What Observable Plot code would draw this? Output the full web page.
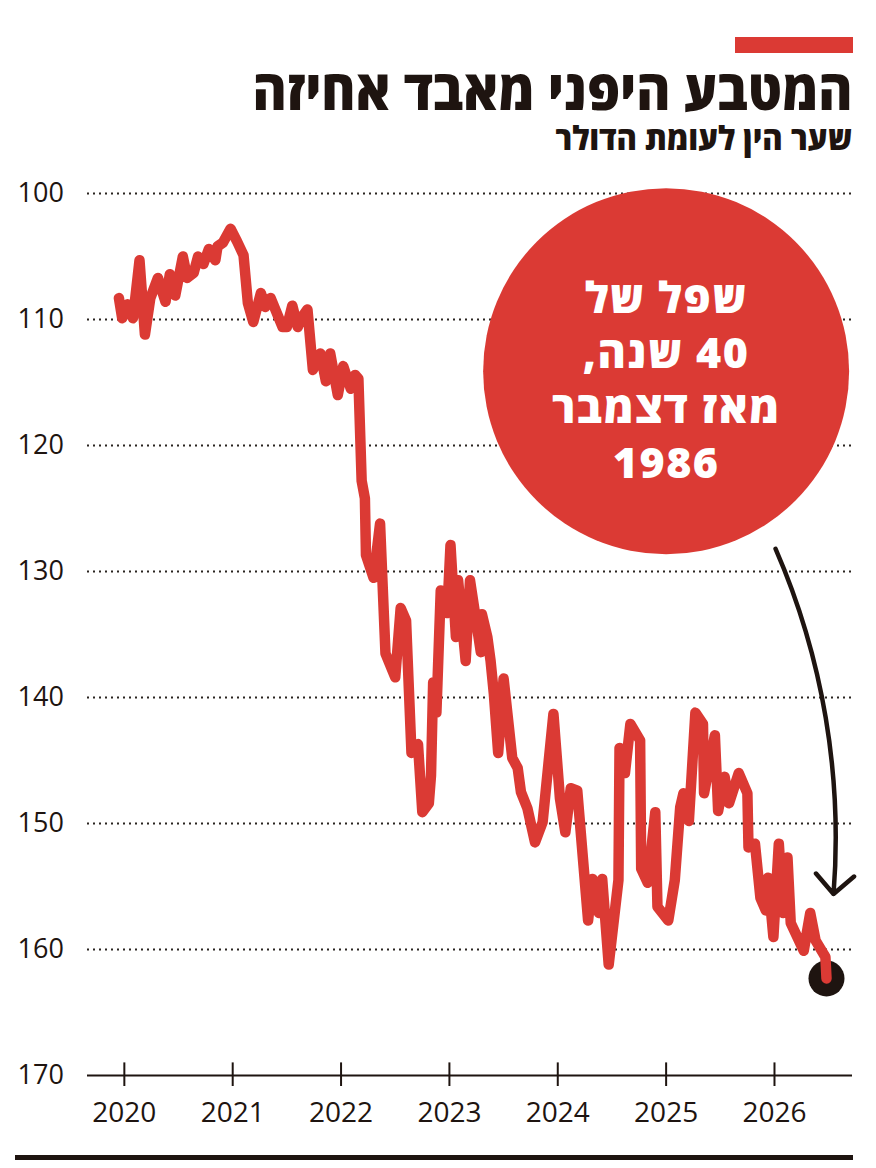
<!DOCTYPE html>
<html lang="he">
<head>
<meta charset="utf-8">
<script src="https://cdn.jsdelivr.net/npm/d3@7"></script>
<script src="https://cdn.jsdelivr.net/npm/@observablehq/plot@0.6"></script>
<style>
  html, body { margin: 0; padding: 0; background: #fff; }
  #page { position: relative; width: 876px; height: 1168px; overflow: hidden; background: #fff; }
  #bar { position: absolute; left: 735px; top: 37px; width: 118px; height: 16px; background: #db3a34; }
  .hdr { position: absolute; right: 24px; direction: rtl; white-space: nowrap; color: #1e1410;
         font-family: "Open Sans", "DejaVu Sans", sans-serif; font-weight: 800; line-height: 1;
         transform-origin: right top; }
  #title { top: 60px; font-size: 56px; }
  #subtitle { top: 121px; font-size: 33px; }
  #chart { position: absolute; left: 0; top: 160px; }
  #chart g[fill="#fff"] text { letter-spacing: 1.5px; }
  #rule { position: absolute; left: 15px; top: 1155px; width: 838px; height: 5px; background: #1e1410; }
</style>
</head>
<body>
<div id="page">
  <div id="bar"></div>
  <div id="title" class="hdr">המטבע היפני מאבד אחיזה</div>
  <div id="subtitle" class="hdr">שער הין לעומת הדולר</div>
  <div id="chart"></div>
  <div id="rule"></div>
</div>
<script>
// ---- data ----
const dates = [
  2019.95, 2019.98, 2020.03, 2020.08, 2020.14, 2020.19, 2020.24, 2020.31, 2020.38, 2020.42,
  2020.47, 2020.54, 2020.58, 2020.64, 2020.68, 2020.73, 2020.78, 2020.84, 2020.86, 2020.91,
  2020.98, 2021.04, 2021.10, 2021.14, 2021.19, 2021.26, 2021.30, 2021.35, 2021.46, 2021.50,
  2021.55, 2021.60, 2021.64, 2021.69, 2021.74, 2021.81, 2021.86, 2021.90, 2021.97, 2022.02,
  2022.09, 2022.13, 2022.16, 2022.19, 2022.22, 2022.23, 2022.30, 2022.36, 2022.41, 2022.50,
  2022.55, 2022.60, 2022.65, 2022.71, 2022.75, 2022.81, 2022.83, 2022.85, 2022.88, 2022.92,
  2022.98, 2023.01, 2023.06, 2023.08, 2023.15, 2023.19, 2023.29, 2023.30, 2023.35, 2023.38,
  2023.41, 2023.45, 2023.50, 2023.58, 2023.63, 2023.66, 2023.72, 2023.79, 2023.86, 2023.96,
  2024.02, 2024.07, 2024.12, 2024.18, 2024.28, 2024.32, 2024.38, 2024.41, 2024.47, 2024.56,
  2024.57, 2024.62, 2024.67, 2024.76, 2024.77, 2024.83, 2024.90, 2024.92, 2025.02, 2025.08,
  2025.13, 2025.16, 2025.21, 2025.27, 2025.34, 2025.35, 2025.45, 2025.48, 2025.54, 2025.58,
  2025.67, 2025.75, 2025.76, 2025.82, 2025.87, 2025.92, 2025.94, 2025.99, 2026.04, 2026.08,
  2026.12, 2026.15, 2026.27, 2026.33, 2026.38, 2026.47, 2026.48
];
const yen = [
  108.3, 109.9, 108.8, 109.9, 105.3, 111.2, 108.3, 106.7, 108.6, 106.4,
  108.1, 105.0, 106.7, 106.3, 105.0, 105.6, 104.4, 105.3, 104.2, 103.9,
  102.8, 103.8, 104.9, 108.7, 110.2, 107.9, 109.0, 108.3, 110.6, 110.6,
  108.9, 110.6, 109.8, 109.2, 114.0, 112.7, 114.9, 112.7, 116.0, 113.7,
  115.5, 114.4, 114.7, 122.8, 124.2, 128.7, 130.5, 126.2, 136.5, 138.4,
  132.9, 133.9, 144.4, 143.7, 149.1, 148.4, 146.2, 138.8, 141.2, 131.5,
  133.3, 127.9, 135.2, 130.7, 137.1, 130.7, 136.4, 133.4, 135.2, 137.1,
  139.7, 144.4, 138.5, 144.8, 145.6, 147.5, 148.8, 151.5, 149.9, 141.3,
  148.0, 150.7, 147.2, 147.4, 157.7, 154.4, 157.1, 154.4, 161.2, 154.5,
  144.0, 146.0, 142.1, 143.4, 153.6, 154.7, 149.1, 156.6, 157.7, 154.5,
  148.7, 147.6, 149.8, 141.2, 142.1, 147.6, 143.0, 149.0, 146.3, 148.4,
  146.0, 147.6, 151.9, 151.6, 155.9, 156.9, 154.3, 159.0, 151.6, 157.1,
  152.7, 157.9, 160.1, 157.1, 159.3, 160.6, 162.3
];
const yearTicks = [2020, 2021, 2022, 2023, 2024, 2025, 2026];
const valueTicks = [100, 110, 120, 130, 140, 150, 160, 170];
const gridTicks = [100, 110, 120, 130, 140, 150, 160];
const calloutText = ["שפל של", "40 שנה,", "מאז דצמבר", "1986"];
// annotation anchors (in data units)
const bubble = [{x: 2025.0, y: 114.1}];
const bubbleLabel = [{x: 2025.0, y: 114.6, text: calloutText.map(s => "\u202B" + s + "\u202C").join("\n")}];
const pointer = [{x1: 2026.01, y1: 128.2, x2: 2026.545, y2: 155.6}];

const series = dates.map((d, i) => ({date: d, value: yen[i]}));
const last = series[series.length - 1];

const RED = "#db3a34";
const INK = "#1e1410";

const chart = Plot.plot({
  width: 876,
  height: 980,
  marginTop: 33,
  marginBottom: 65,
  marginLeft: 87,
  marginRight: 24,
  style: {fontFamily: "'Open Sans', sans-serif", color: INK, background: "transparent", overflow: "visible"},
  x: {domain: [2019.66, 2026.72]},
  y: {domain: [170, 100]},
  marks: [
    Plot.ruleY(gridTicks, {stroke: "#2a2420", strokeWidth: 2, strokeDasharray: "2,4"}),
    Plot.ruleY([170], {stroke: INK, strokeWidth: 2}),
    Plot.ruleX(yearTicks, {y1: 169, y2: 170, stroke: INK, strokeWidth: 2}),
    Plot.axisX({ticks: yearTicks, tickFormat: d => String(d), tickSize: 11, tickPadding: 16,
                fontSize: 28, fontWeight: 500, stroke: INK, strokeWidth: 2, fill: INK}),
    Plot.axisY({ticks: valueTicks, tickSize: 0, tickPadding: 70, textAnchor: "start",
                fontSize: 27, fontWeight: 500, fill: INK}),
    Plot.dot(bubble, {x: "x", y: "y", r: 183, fill: RED, stroke: "none"}),
    Plot.text(bubbleLabel, {x: "x", y: "y", text: "text", fill: "#fff", fontSize: 43, fontWeight: 800,
                fontFamily: "'Open Sans', sans-serif", lineHeight: 1.28, textAnchor: "middle", lineAnchor: "middle"}),
    Plot.dot([last], {x: "date", y: "value", r: 18, fill: INK, stroke: "none"}),
    Plot.line(series, {x: "date", y: "value", stroke: RED, strokeWidth: 10.5, strokeLinejoin: "round", strokeLinecap: "round", curve: "linear"}),
    Plot.arrow(pointer, {x1: "x1", y1: "y1", x2: "x2", y2: "y2", bend: 14, stroke: INK, strokeWidth: 4.5,
                headLength: 9, headAngle: 90, insetStart: 0, insetEnd: 0})
  ]
});
document.getElementById("chart").appendChild(chart);

// fit header widths to the reference
function fit(id, target) {
  const el = document.getElementById(id);
  const w = el.getBoundingClientRect().width;
  el.style.transform = `scaleX(${target / w})`;
}
fit("title", 600);
fit("subtitle", 297);
</script>
</body>
</html>
